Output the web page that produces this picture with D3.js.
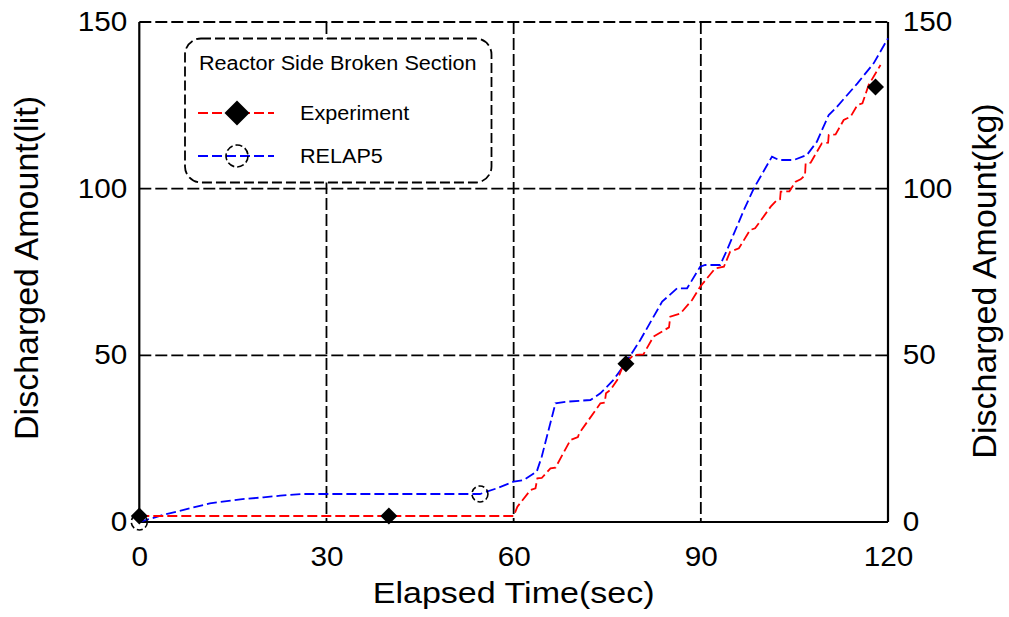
<!DOCTYPE html>
<html><head><meta charset="utf-8">
<script src="https://cdn.jsdelivr.net/npm/d3@7"></script>
<style>body{margin:0;background:#fff}svg{display:block}text{font-family:"Liberation Sans",Arial,sans-serif}</style>
</head><body><svg id="c" width="1009" height="617"></svg>
<script>
// ---- data ----
const xTicks = [0, 30, 60, 90, 120];
const yTicks = [0, 50, 100, 150];
const expTime = [0,60,60.6,62.7,63.5,63.8,64.5,65.9,66.7,69.1,70.3,70.5,73.9,74.6,74.8,75.5,76.6,77.6,79.2,80.8,82.4,84.9,85.1,86.7,88.6,89.9,92.3,93.7,94.7,96.1,97.9,98.7,101.2,102.2,102.7,102.8,104.2,105.2,106.0,106.7,106.8,107.6,109.4,110.4,110.5,111.6,112.9,114.0,115.1,115.9,116.9,118.8];
const expValue = [1.8,1.8,4.6,9.6,10.1,13.1,13.2,16.1,16.3,24.6,25.5,26.6,35.6,35.8,38.6,39.6,42.6,47.1,50.1,50.3,55.6,58.4,61.6,62.5,66.6,70.6,76.1,76.6,81.1,82.1,87.6,88.1,94.6,96.6,96.8,99.1,99.2,102.1,102.8,104.0,107.6,107.8,113.6,113.8,116.1,116.3,120.6,121.6,125.1,125.6,131.1,137.1];
const relTime = [0,3.8,9.2,11.3,16.2,19.9,22.6,26.3,54.6,57.3,60,61.6,63.7,64.5,66.7,68.5,72.3,73.9,76.0,77.9,80.3,83.8,86.2,87.8,89.9,90.7,93.1,94.2,96.9,98.5,101.4,102.5,104.9,107.0,108.6,110.5,111.6,115.1,117.7,120];
const relValue = [0,2.1,4.6,5.6,6.8,7.4,7.9,8.4,8.4,10.1,12.1,12.6,15.1,19.6,35.6,36.1,36.6,38.6,42.6,47.6,54.6,66.1,70.1,70.1,76.6,77.1,77.1,81.6,93.6,100.1,109.6,108.6,108.6,110.1,114.1,122.1,124.1,131.6,137.6,145.1];
const expMarkT = [0, 40, 78, 118];
const expMarkV = [1.8, 1.8, 47.5, 130.5];
const relMarkT = [0, 54.6];
const relMarkV = [0, 8.4];
const legendTitle = "Reactor Side Broken Section";
const seriesNames = ["Experiment", "RELAP5"];
const xTitle = "Elapsed Time(sec)";
const yTitleLeft = "Discharged Amount(lit)";
const yTitleRight = "Discharged Amount(kg)";

// ---- layout ----
const svg = d3.select("#c");
const L = 139.3, R = 888, T = 22, B = 522;
const x = d3.scaleLinear().domain([0,120]).range([L,R]);
const y = d3.scaleLinear().domain([0,150]).range([B,T]);
const FS_TICK = 27, SX_TICK = 1.1, FS_TITLE = 30, SX_TITLE = 1.135, FS_VT = 34;

// grid
const g = svg.append("g");
g.selectAll(".vg").data([30,60,90]).join("line")
  .attr("x1",d=>x(d)).attr("x2",d=>x(d)).attr("y1",T).attr("y2",B)
  .attr("stroke","#000").attr("stroke-width",1.8).attr("stroke-dasharray","12,4");
g.selectAll(".hg").data([50,100,150]).join("line")
  .attr("y1",d=>y(d)).attr("y2",d=>y(d)).attr("x1",L).attr("x2",R)
  .attr("stroke","#000").attr("stroke-width",1.8).attr("stroke-dasharray","12,4");
g.append("line").attr("x1",L).attr("x2",L).attr("y1",T).attr("y2",B).attr("stroke","#000").attr("stroke-width",2.2);
g.append("line").attr("x1",R).attr("x2",R).attr("y1",T).attr("y2",B).attr("stroke","#000").attr("stroke-width",2.2);
g.append("line").attr("x1",L).attr("x2",R).attr("y1",B).attr("y2",B).attr("stroke","#000").attr("stroke-width",2.2);

// axes
function styleAxis(sel){
  sel.select(".domain").remove();
  sel.selectAll("text").attr("font-size",FS_TICK).attr("fill","#000")
    .attr("font-family","Liberation Sans, Arial, sans-serif")
    .attr("transform",`scale(${SX_TICK},1)`);
}
svg.append("g").attr("transform",`translate(${L},0)`)
  .call(d3.axisLeft(y).tickValues(yTicks).tickSize(0).tickPadding(11).tickFormat(d3.format("d"))).call(styleAxis);
svg.append("g").attr("transform",`translate(${R},0)`)
  .call(d3.axisRight(y).tickValues(yTicks).tickSize(0).tickPadding(13.5).tickFormat(d3.format("d"))).call(styleAxis);
svg.append("g").attr("transform",`translate(0,${B})`)
  .call(d3.axisBottom(x).tickValues(xTicks).tickSize(0).tickPadding(25).tickFormat(d3.format("d"))).call(styleAxis);

// titles
svg.append("text").attr("transform",`translate(${(L+R)/2},603) scale(${SX_TITLE},1)`).attr("text-anchor","middle").attr("font-size",FS_TITLE).text(xTitle);
svg.append("text").attr("transform","translate(38,268) rotate(-90)").attr("text-anchor","middle").attr("font-size",FS_VT).text(yTitleLeft);
svg.append("text").attr("transform","translate(996,281) rotate(-90)").attr("text-anchor","middle").attr("font-size",FS_VT).text(yTitleRight);

// lines
const expData = expTime.map((t,i)=>[t,expValue[i]]);
const relData = relTime.map((t,i)=>[t,relValue[i]]);
const line = d3.line().x(d=>x(d[0])).y(d=>y(d[1]));
svg.append("path").datum(relData).attr("d",line).attr("fill","none").attr("stroke","#0000ff").attr("stroke-width",1.8).attr("stroke-dasharray","10,4");
svg.append("path").datum(expData).attr("d",line).attr("fill","none").attr("stroke","#ff0000").attr("stroke-width",1.8).attr("stroke-dasharray","10,4");

// markers
const diamond = s => `M0,${-s}L${s},0L0,${s}L${-s},0Z`;
svg.selectAll(".em").data(expMarkT.map((t,i)=>[t,expMarkV[i]])).join("path")
  .attr("transform",d=>`translate(${x(d[0])},${y(d[1])})`).attr("d",diamond(8.5)).attr("fill","#000");
svg.selectAll(".rm").data(relMarkT.map((t,i)=>[t,relMarkV[i]])).join("circle")
  .attr("cx",d=>x(d[0])).attr("cy",d=>y(d[1])).attr("r",8).attr("fill","none").attr("stroke","#000").attr("stroke-width",1.6).attr("stroke-dasharray","6,3");

// legend
const lg = svg.append("g");
lg.append("rect").attr("x",185).attr("y",38.5).attr("width",306.5).attr("height",144).attr("rx",16).attr("ry",16)
  .attr("fill","#fff").attr("stroke","#000").attr("stroke-width",1.8).attr("stroke-dasharray","10,4");
lg.append("text").attr("transform","translate(199,70) scale(1.03,1)").attr("font-size",21).text(legendTitle);
const rows = [{y:113, color:"#ff0000", name:seriesNames[0], m:"d"},{y:156, color:"#0000ff", name:seriesNames[1], m:"c"}];
rows.forEach(r=>{
  lg.append("line").attr("x1",198).attr("x2",274).attr("y1",r.y).attr("y2",r.y).attr("stroke",r.color).attr("stroke-width",1.8).attr("stroke-dasharray","10,4");
  if(r.m==="d") lg.append("path").attr("transform",`translate(237,${r.y})`).attr("d",diamond(12.5)).attr("fill","#000");
  else lg.append("circle").attr("cx",237).attr("cy",r.y).attr("r",11).attr("fill","none").attr("stroke","#000").attr("stroke-width",1.6).attr("stroke-dasharray","7,3");
  lg.append("text").attr("transform",`translate(300,${r.y+7}) scale(1.03,1)`).attr("font-size",21).text(r.name);
});
</script></body></html>
